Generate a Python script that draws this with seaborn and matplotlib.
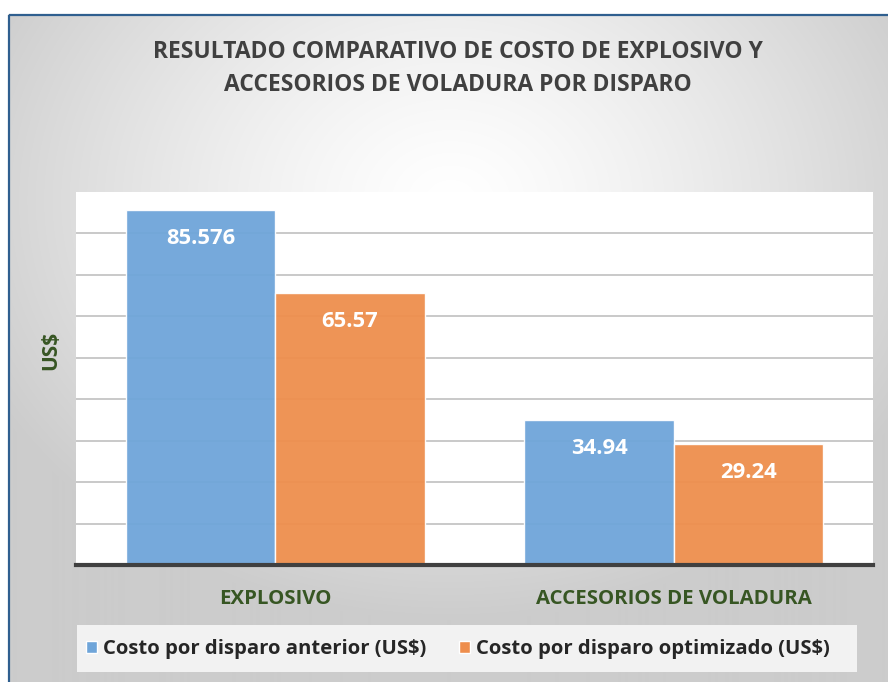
import numpy as np
import pandas as pd
import seaborn as sns
import matplotlib.pyplot as plt
from matplotlib.patches import Rectangle

categories = ["EXPLOSIVO", "ACCESORIOS DE VOLADURA"]
series_names = ["Costo por disparo anterior (US$)", "Costo por disparo optimizado (US$)"]
anterior = [85.576, 34.94]
optimizado = [65.57, 29.24]
value_labels = [["85.576", "34.94"], ["65.57", "29.24"]]

df = pd.DataFrame({
    "categoria": categories * 2,
    "serie": [series_names[0]] * 2 + [series_names[1]] * 2,
    "valor": anterior + optimizado,
})

sns.set_theme(style="white")
plt.rcParams["font.family"] = ["Open Sans", "DejaVu Sans"]

W, H = 888, 682
fig = plt.figure(figsize=(W / 100, H / 100), dpi=100)

# fondo con degradado radial
bg = fig.add_axes([0, 0, 1, 1])
yy, xx = np.mgrid[0:H, 0:W]
r = np.sqrt(((xx - 450) / 520) ** 2 + ((yy - 200) / 420) ** 2)
g = 1.0 - 0.20 * np.clip(r, 0, 1) ** 1.3
img = np.dstack([g, g, g])
img[:14, :] = 1.0
img[:, :8] = 1.0
bg.imshow(img, extent=[0, W, H, 0], aspect="auto")
bg.add_patch(Rectangle((8.5, 14.5), W, H, fill=False, edgecolor="#2f5f8f", lw=1.6))
# caja de leyenda
bg.add_patch(Rectangle((77, 625), 780, 47, facecolor="#f2f2f2", edgecolor="none"))
bg.set_xlim(0, W)
bg.set_ylim(H, 0)
bg.axis("off")

ax = fig.add_axes([76 / W, 1 - 565 / H, (873 - 76) / W, (565 - 192) / H])
ax.set_facecolor("white")
palette = ["#6fa5d9", "#ee8e4d"]
sns.barplot(data=df, x="categoria", y="valor", hue="serie", palette=palette,
            width=0.75, saturation=1, edgecolor="white", linewidth=1, alpha=0.95,
            ax=ax, legend=False)

ax.set_ylim(0, 90)
ax.set_xlim(-0.5, 1.5)
ax.set_yticks(np.arange(10, 90, 10))
ax.yaxis.grid(True, color="#c0c0c0", lw=1.2)
ax.set_axisbelow(True)
ax.tick_params(axis="y", left=False, labelleft=False)
ax.tick_params(axis="x", bottom=False, pad=11)
for lab in ax.get_xticklabels():
    lab.set_fontweight("bold")
    lab.set_fontsize(14.7)
    lab.set_color("#375623")
for s in ["left", "right", "top"]:
    ax.spines[s].set_visible(False)
ax.spines["bottom"].set_color("#404040")
ax.spines["bottom"].set_linewidth(3)
ax.set_xlabel("")
ax.set_ylabel("US$", fontsize=15, fontweight="bold", color="#375623")
ax.yaxis.set_label_coords(-0.019, 0.576)

for i, cont in enumerate(ax.containers):
    for bar, txt in zip(cont, value_labels[i]):
        ax.annotate(txt, (bar.get_x() + bar.get_width() / 2, bar.get_height()),
                    xytext=(0, -20.5), textcoords="offset points", ha="center", va="center",
                    color="white", fontsize=15.8, fontweight="bold")

fig.text(458 / W, 1 - 52 / H, "RESULTADO COMPARATIVO DE COSTO DE EXPLOSIVO Y",
         ha="center", va="center", fontsize=16.5, fontweight="bold", color="#404040")
fig.text(458 / W, 1 - 85 / H, "ACCESORIOS DE VOLADURA POR DISPARO",
         ha="center", va="center", fontsize=16.5, fontweight="bold", color="#404040")

# leyenda
handles = [Rectangle((0, 0), 1, 1, facecolor=c) for c in palette]
fig.legend(handles, series_names, loc="center", bbox_to_anchor=(458 / W, 1 - 649 / H),
           ncol=2, frameon=False, prop={"weight": "bold", "size": 14.6},
           handlelength=0.55, handleheight=0.55, handletextpad=0.3, columnspacing=1.6)

fig.savefig("out.png", dpi=100)
